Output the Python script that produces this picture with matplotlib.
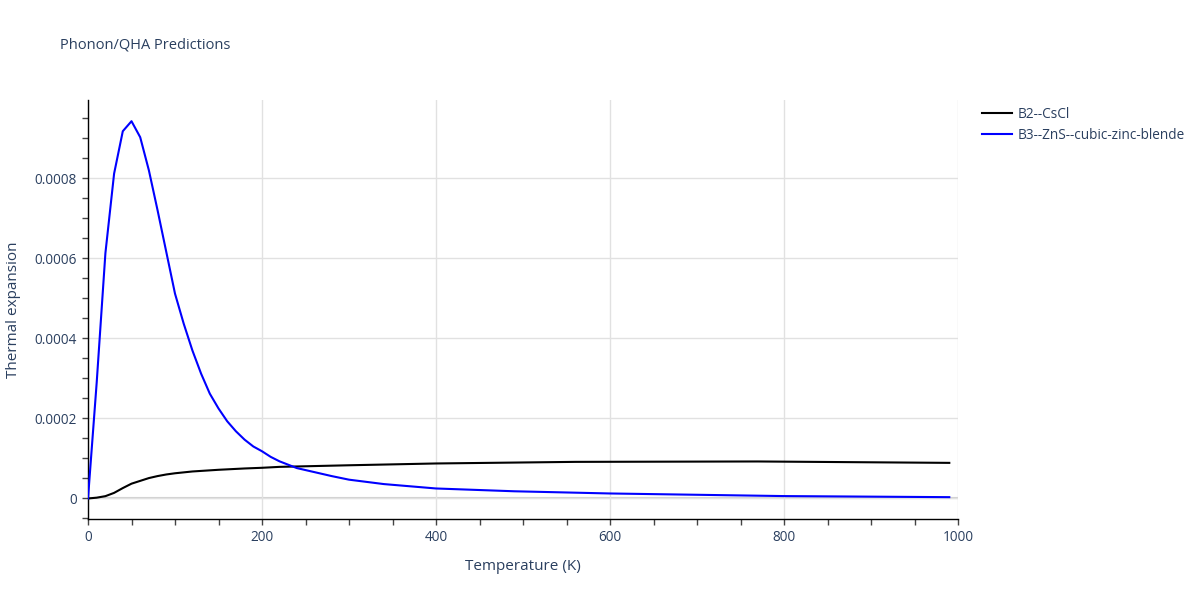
import matplotlib.pyplot as plt
from matplotlib.ticker import MultipleLocator, FuncFormatter
from matplotlib.lines import Line2D

plt.rcParams['font.family'] = ['Open Sans', 'DejaVu Sans']

# temperatures (K) and thermal expansion
t_cscl = [0, 10, 20, 30, 40, 50, 60, 70, 80, 90, 100, 120, 150, 180, 200,
          220, 300, 400, 560, 770, 990]
alpha_cscl = [0, 0.000002, 0.0000058, 0.000014, 0.000026, 0.000037, 0.000044,
              0.000051, 0.000056, 0.00006, 0.000063, 0.0000675, 0.0000717,
              0.000075, 0.0000767, 0.000079, 0.000083, 0.0000875, 0.0000915,
              0.0000925, 0.000089]

t_zns = [0, 10, 20, 30, 40, 50, 60, 70, 80, 90, 100, 110, 120, 130, 140, 150,
         160, 170, 180, 190, 200, 210, 220, 240, 260, 280, 300, 340, 400, 490,
         600, 800, 990]
alpha_zns = [0, 0.00029, 0.000613, 0.000812, 0.000918, 0.000943, 0.000903,
             0.00082, 0.00072, 0.000616, 0.000512, 0.000437, 0.00037,
             0.000312, 0.000262, 0.000225, 0.000193, 0.000168, 0.000147,
             0.00013, 0.000118, 0.000104, 0.000093, 0.000076, 0.000066,
             0.000056, 0.000047, 0.000036, 0.000025, 0.000018, 0.0000125,
             0.000006, 0.0000033]

series_names = ['B2--CsCl', 'B3--ZnS--cubic-zinc-blende']
series_colors = ['black', 'blue']

text_color = '#2a3f5f'
grid_color = '#e1e1e1'

fig = plt.figure(figsize=(12, 6), dpi=100)
ax = fig.add_axes([88 / 1200, 1 - 519 / 600, 870 / 1200, 419 / 600])

ax.plot(t_cscl, alpha_cscl, color=series_colors[0], lw=1.5, zorder=3)
ax.plot(t_zns, alpha_zns, color=series_colors[1], lw=1.5, zorder=4)

ax.set_xlim(0, 1000)
ax.set_ylim(-0.0000513, 0.000996)

ax.xaxis.set_major_locator(MultipleLocator(200))
ax.xaxis.set_minor_locator(MultipleLocator(50))
ax.yaxis.set_major_locator(MultipleLocator(0.0002))
ax.yaxis.set_minor_locator(MultipleLocator(0.00005))
ax.yaxis.set_major_formatter(FuncFormatter(lambda v, p: '0' if abs(v) < 1e-12 else f'{v:.4f}'))

ax.grid(True, which='major', color=grid_color, lw=1, zorder=0)
ax.axhline(0, color='#d0d0d0', lw=1.5, zorder=1)

for side in ['top', 'right']:
    ax.spines[side].set_visible(False)
for side in ['left', 'bottom']:
    ax.spines[side].set_color('black')
    ax.spines[side].set_linewidth(1)

ax.tick_params(which='both', direction='out', length=4, width=1, color='#444444',
               labelcolor=text_color, labelsize=9.8, pad=4)

ax.set_xlabel('Temperature (K)', fontsize=11, color=text_color, labelpad=10)
ax.set_ylabel('Thermal expansion', fontsize=11, color=text_color, labelpad=10)

fig.text(60 / 1200, 1 - 45 / 600, 'Phonon/QHA Predictions', fontsize=10.5,
         color=text_color, va='center', ha='left')

handles = [Line2D([0], [0], color=c, lw=1.5) for c in series_colors]
fig.legend(handles, series_names, loc='upper left', bbox_to_anchor=(982 / 1200, 1 - 107 / 600),
           frameon=False, fontsize=9.8, labelcolor=text_color, handlelength=2.2,
           handletextpad=0.4, labelspacing=0.45, borderaxespad=0, borderpad=0)

plt.savefig('out.png', dpi=100)
plt.close()
